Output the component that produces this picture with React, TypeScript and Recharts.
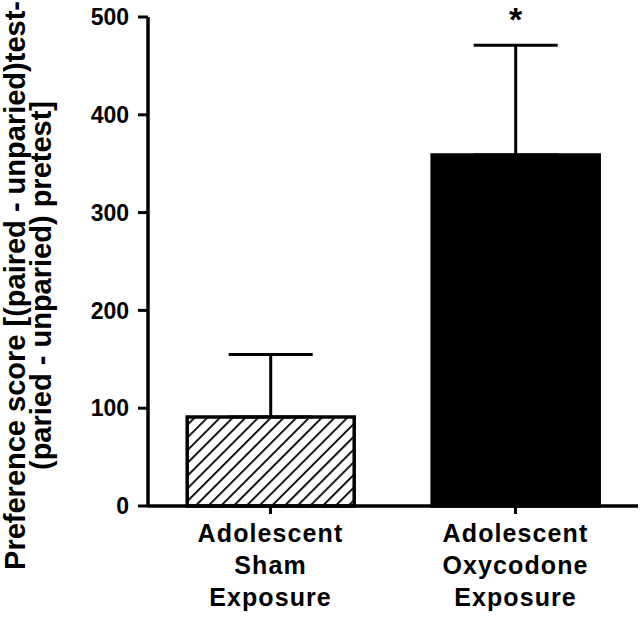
import React from "react";
import {
  BarChart,
  Bar,
  XAxis,
  YAxis,
  Cell,
  ErrorBar,
  ReferenceDot,
} from "recharts";

const groups = ["Adolescent\nSham\nExposure", "Adolescent\nOxycodone\nExposure"];
const means = [91, 359];
const sems = [64, 112];
const marks = ["", "*"];
const yTicks = [0, 100, 200, 300, 400, 500];
const yLabelLines = [
  "Preference score [(paired - unparied)test-",
  "(paried - unparied) pretest]",
];

const FONT = '"Liberation Sans", Arial, Helvetica, sans-serif';

const data = groups.map((g, i) => ({
  group: g,
  mean: means[i],
  err: [0, sems[i]],
  top: means[i] + sems[i],
  mark: marks[i],
}));

function GroupTick(props: any) {
  const { x, y, payload } = props;
  const lines = String(payload.value).split("\n");
  return (
    <text
      x={x}
      y={y}
      textAnchor="middle"
      fontFamily={FONT}
      fontWeight="bold"
      fontSize={25}
      letterSpacing={1.1}
      fill="#000"
    >
      {lines.map((l, i) => (
        <tspan key={i} x={x} dy={i === 0 ? 26 : 32}>
          {l}
        </tspan>
      ))}
    </text>
  );
}

function YLabel(props: any) {
  const vb = props.viewBox || { x: 0, y: 17, width: 148, height: 489 };
  const cy = vb.y + vb.height / 2 + 24;
  const xs = [25, 51];
  return (
    <g>
      {yLabelLines.map((l, i) => (
        <text
          key={i}
          x={xs[i]}
          y={cy}
          transform={`rotate(-90 ${xs[i]} ${cy})`}
          textAnchor="middle"
          fontFamily={FONT}
          fontWeight="bold"
          fontSize={29}
          fill="#000"
        >
          {l}
        </text>
      ))}
    </g>
  );
}

function Star(props: any) {
  const { cx, cy } = props;
  return (
    <text
      x={cx}
      y={cy + 19}
      textAnchor="middle"
      fontFamily={FONT}
      fontWeight="bold"
      fontSize={34}
      fill="#000"
    >
      *
    </text>
  );
}

export default function App() {
  return (
    <div style={{ position: "absolute", left: 0, top: 0, background: "#fff" }}>
      <BarChart
        width={640}
        height={617}
        data={data}
        margin={{ top: 17, right: 2, left: 0, bottom: 0 }}
        barCategoryGap="16%"
      >
        <defs>
          <pattern
            id="hatch"
            patternUnits="userSpaceOnUse"
            width={9}
            height={9}
            patternTransform="rotate(45)"
          >
            <rect width={9} height={9} fill="#fff" />
            <line x1={0} y1={0} x2={0} y2={9} stroke="#000" strokeWidth={3.6} />
          </pattern>
        </defs>
        <XAxis
          dataKey="group"
          height={111}
          interval={0}
          axisLine={{ stroke: "#000", strokeWidth: 3.5 }}
          tickLine={{ stroke: "#000", strokeWidth: 3 }}
          tickSize={8}
          tick={<GroupTick />}
        />
        <YAxis
          width={148}
          domain={[0, 500]}
          ticks={yTicks}
          interval={0}
          axisLine={{ stroke: "#000", strokeWidth: 3.5 }}
          tickLine={{ stroke: "#000", strokeWidth: 3 }}
          tickSize={10}
          tickMargin={9}
          tick={{
            fill: "#000",
            fontSize: 23,
            fontWeight: "bold",
            fontFamily: FONT,
          }}
          label={<YLabel />}
        />
        <Bar
          dataKey="mean"
          stroke="#000"
          strokeWidth={3.5}
          isAnimationActive={false}
        >
          {data.map((d, i) => (
            <Cell key={i} fill={i === 0 ? "url(#hatch)" : "#000"} />
          ))}
          <ErrorBar
            dataKey="err"
            direction="y"
            width={42}
            stroke="#000"
            strokeWidth={3}
            isAnimationActive={false}
          />
        </Bar>
        {data
          .filter((d) => d.mark)
          .map((d) => (
            <ReferenceDot
              key={d.group}
              x={d.group}
              y={d.top + 34}
              r={0}
              ifOverflow="visible"
              shape={<Star />}
            />
          ))}
      </BarChart>
    </div>
  );
}
